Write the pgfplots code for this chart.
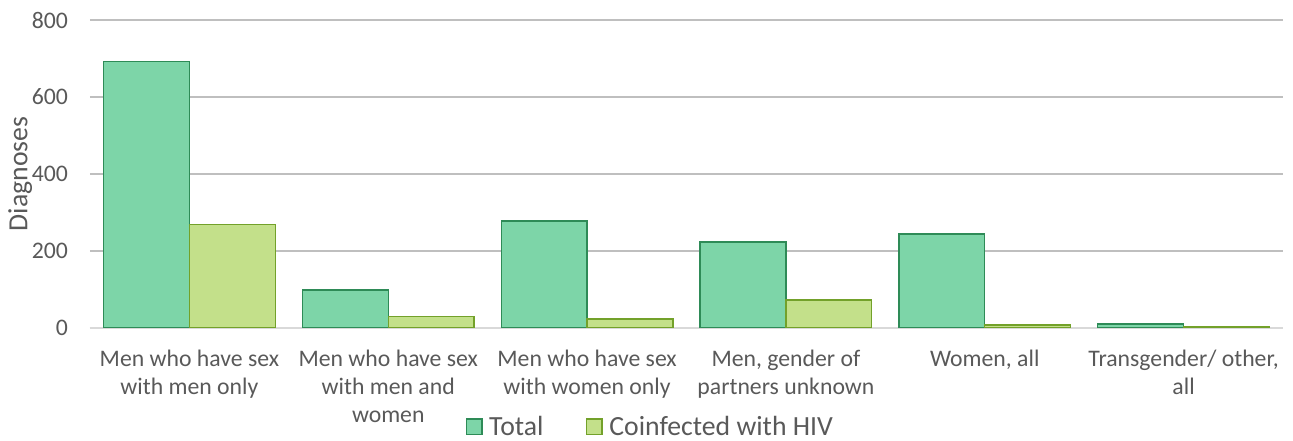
\documentclass[border=0pt]{standalone}
\usepackage{pgfplots}
\pgfplotsset{compat=1.18}
\usepackage{fontspec}
\setmainfont{Carlito}
\definecolor{txt}{HTML}{595959}
\definecolor{grid}{HTML}{D9D9D9}
\definecolor{totfill}{HTML}{7DD5A8}
\definecolor{totedge}{HTML}{2E8B57}
\definecolor{hivfill}{HTML}{C3E08A}
\definecolor{hivedge}{HTML}{73A12A}
\begin{document}
\begin{tikzpicture}[x=0.75pt,y=0.75pt]
\useasboundingbox (0,0) rectangle (1293,441);
\begin{axis}[
  at={(67.5pt,84.75pt)}, anchor=south west,
  scale only axis, width=894.75pt, height=231pt,
  ymin=0, ymax=800, ytick={0,200,400,600,800},
  xmin=-0.5, xmax=5.5, xtick={0,1,2,3,4,5},
  xticklabels={{Men who have sex\\with men only},{Men who have sex\\with men and\\women},{Men who have sex\\with women only},{Men, gender of\\partners unknown},{Women, all},{Transgender/ other,\\all}},
  font=\fontsize{17.8}{21}\selectfont,
  /pgf/number format/assume math mode=true,
  tick label style={text=txt},
  xticklabel style={align=center, anchor=north, yshift=-13pt},
  yticklabel style={xshift=-13pt},
  ylabel={Diagnoses}, ylabel style={text=txt, font=\fontsize{20.8}{24}\selectfont, yshift=-7pt},
  ymajorgrids, xmajorgrids=false, grid style={grid, line width=1pt},
  axis lines*=left,
  x axis line style={grid, line width=1pt, -},
  y axis line style={draw=none},
  major tick length=0pt,
  ybar, bar width=0.432,
  legend style={at={(0.470,-0.321)}, anchor=center, draw=none, legend columns=2, font=\fontsize{20.8}{24}\selectfont, text=txt, /tikz/every even column/.append style={column sep=30pt}, /tikz/every odd column/.append style={column sep=3pt}},
  legend image code/.code={\draw[#1, line width=1pt] (0pt,-5.5pt) rectangle (11.5pt,6pt);},
]
\addplot[fill=totfill, draw=totedge, line width=1pt, bar shift=-0.216] coordinates {(0,693) (1,99) (2,278) (3,223) (4,244) (5,10)};
\addplot[fill=hivfill, draw=hivedge, line width=1pt, bar shift=0.216] coordinates {(0,268) (1,29) (2,23) (3,73) (4,8) (5,3)};
\legend{Total, Coinfected with HIV}
\end{axis}
\end{tikzpicture}
\end{document}
